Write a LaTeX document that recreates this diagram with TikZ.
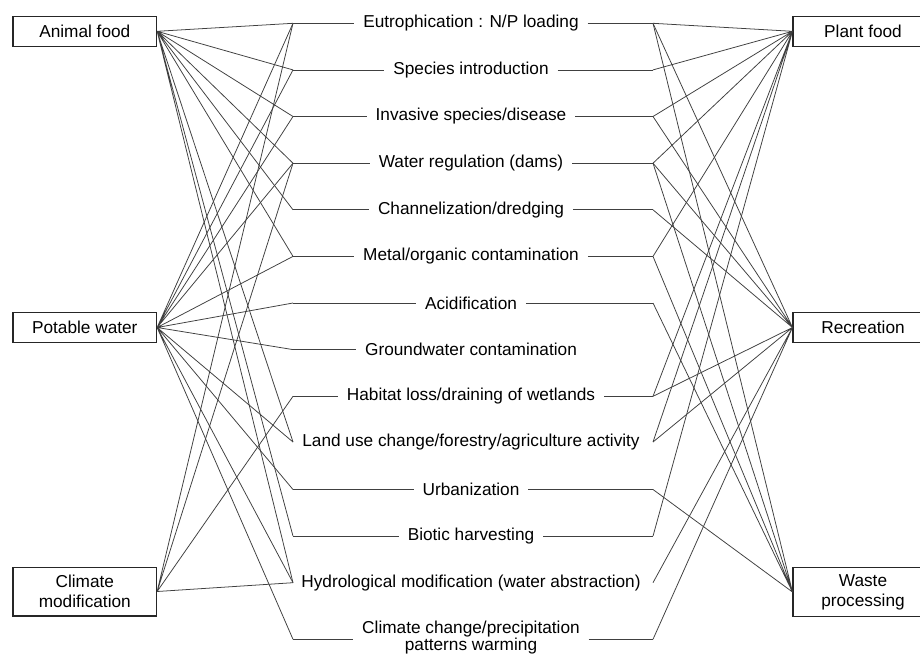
\documentclass[tikz,border=0pt]{standalone}
\usepackage{fontspec}
\setmainfont{Liberation Sans}

\begin{document}
\begin{tikzpicture}[x=0.58pt, y=-0.58pt,
	service/.style={draw=black!85, line width=0.6pt, minimum height=17.6pt, align=center, inner sep=1pt, font=\fontsize{10}{11.6}\selectfont},
	pressure/.style={inner xsep=5pt, inner ysep=1pt, align=center, font=\fontsize{10}{10}\selectfont},
	link/.style={black!75, line width=0.45pt}]
	\useasboundingbox (0,0) rectangle (920,656);
	\clip (0,0) rectangle (920,656);

	% services
	\node[service, minimum width=83.3pt] (animal) at (84.8,31.3) {Animal food};
	\node[service, minimum width=83.3pt] (water) at (84.8,327.5) {Potable water};
	\node[service, minimum width=83.3pt, minimum height=28.4pt] (climate) at (84.8,591.5) {Climate\\modification};
	\node[service, minimum width=81.2pt] (plant) at (863,31.3) {Plant food};
	\node[service, minimum width=81.2pt] (recreation) at (863,327.5) {Recreation};
	\node[service, minimum width=81.2pt, minimum height=28.4pt] (waste) at (863,592) {Waste\\processing};

	% pressures
	\node[pressure] (p1) at (471,23.3) {Eutrophication : N/P loading};
	\node[pressure] (p2) at (471,69.9) {Species introduction};
	\node[pressure] (p3) at (471,116.5) {Invasive species/disease};
	\node[pressure] (p4) at (471,163.2) {Water regulation (dams)};
	\node[pressure] (p5) at (471,209.8) {Channelization/dredging};
	\node[pressure] (p6) at (471,256.4) {Metal/organic contamination};
	\node[pressure] (p7) at (471,303) {Acidification};
	\node[pressure] (p8) at (471,349.6) {Groundwater contamination};
	\node[pressure] (p9) at (471,396.3) {Habitat loss/draining of wetlands};
	\node[pressure] (p10) at (471,442) {Land use change/forestry/agriculture activity};
	\node[pressure] (p11) at (471,489.5) {Urbanization};
	\node[pressure] (p12) at (471,536.1) {Biotic harvesting};
	\node[pressure] (p13) at (471,582.7) {Hydrological modification (water abstraction)};
	\node[pressure] (p14) at (471,637.5) {Climate change/precipitation\\patterns warming};

	% joints left and right of each pressure
	\coordinate (l1) at (293,23.3);   \coordinate (r1) at (653,23.3);
	\coordinate (l2) at (293,69.9);   \coordinate (r2) at (653,69.9);
	\coordinate (l3) at (293,116.5);  \coordinate (r3) at (653,116.5);
	\coordinate (l4) at (293,163.2);  \coordinate (r4) at (653,163.2);
	\coordinate (l5) at (293,209.8);  \coordinate (r5) at (653,209.8);
	\coordinate (l6) at (293,256.4);  \coordinate (r6) at (653,256.4);
	\coordinate (l7) at (293,303);    \coordinate (r7) at (653,303);
	\coordinate (l8) at (293,349.6);  \coordinate (r8) at (653,349.6);
	\coordinate (l9) at (293,396.3);  \coordinate (r9) at (653,396.3);
	\coordinate (l10) at (293,442);   \coordinate (r10) at (653,442);
	\coordinate (l11) at (293,489.5); \coordinate (r11) at (653,489.5);
	\coordinate (l12) at (293,536.1); \coordinate (r12) at (653,536.1);
	\coordinate (l13) at (293,582.7); \coordinate (r13) at (653,582.7);
	\coordinate (l14) at (293,639.3); \coordinate (r14) at (653,639.3);

	% short leads to the texts
	\foreach \i in {1,2,3,4,5,6,7,8,9,11,12,14}
		\draw[link] (l\i) -- (l\i -| p\i.west);
	\foreach \i in {1,2,3,4,5,6,7,9,11,12,14}
		\draw[link] (r\i -| p\i.east) -- (r\i);

	% services on the left
	\draw[link] (animal.east) -- (l1) (animal.east) -- (l2) (animal.east) -- (l3)
		(animal.east) -- (l4) (animal.east) -- (l5) (animal.east) -- (l6)
		(animal.east) -- (l10) (animal.east) -- (l12) (animal.east) -- (l13);
	\draw[link] (water.east) -- (l1) (water.east) -- (l2) (water.east) -- (l3)
		(water.east) -- (l4) (water.east) -- (l6) (water.east) -- (l7)
		(water.east) -- (l8) (water.east) -- (l10) (water.east) -- (l11)
		(water.east) -- (l13) (water.east) -- (l14);
	\draw[link] (climate.east) -- (l1) (climate.east) -- (l4)
		(climate.east) -- (l9) (climate.east) -- (l13);

	% services on the right
	\draw[link] (plant.west) -- (r1) (plant.west) -- (r2) (plant.west) -- (r3)
		(plant.west) -- (r4) (plant.west) -- (r6) (plant.west) -- (r9)
		(plant.west) -- (r10) (plant.west) -- (r12);
	\draw[link] (recreation.west) -- (r1) (recreation.west) -- (r3)
		(recreation.west) -- (r4) (recreation.west) -- (r5) (recreation.west) -- (r9)
		(recreation.west) -- (r10) (recreation.west) -- (r13) (recreation.west) -- (r14);
	\draw[link] (waste.west) -- (r1) (waste.west) -- (r4) (waste.west) -- (r6)
		(waste.west) -- (r7) (waste.west) -- (r11);
\end{tikzpicture}
\end{document}
